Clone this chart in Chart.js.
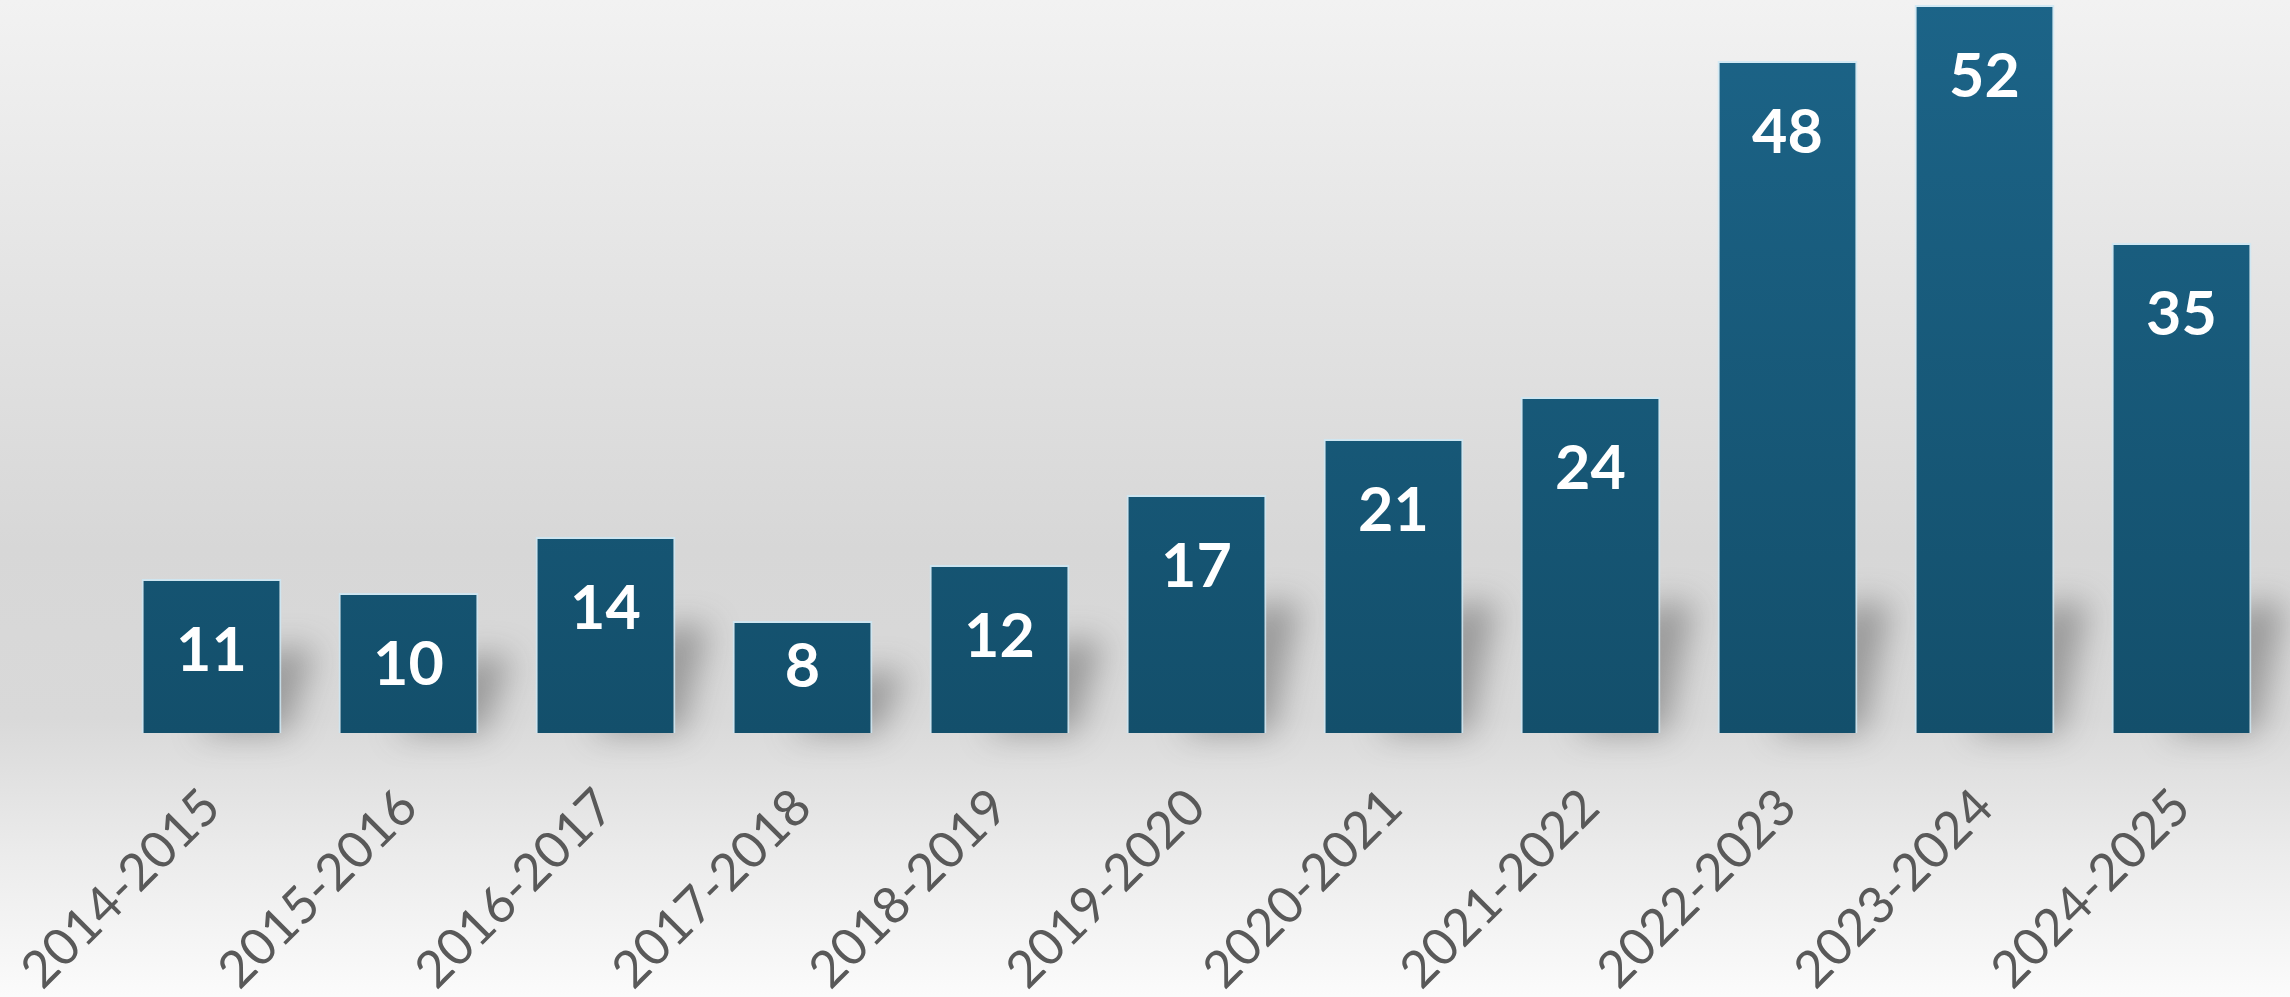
<!DOCTYPE html>
<html>
<head>
<meta charset="utf-8">
<script src="https://cdn.jsdelivr.net/npm/chart.js@4/dist/chart.umd.min.js"></script>
<style>
  html, body { margin: 0; padding: 0; }
  body {
    width: 2290px; height: 997px; overflow: hidden;
    background: linear-gradient(to bottom, #f2f2f2 0%, #e3e3e3 30%, #d7d7d7 55%, #d9d9d9 72%, #ececec 86%, #fbfbfb 100%);
  }
  #wrap { position: relative; width: 2290px; height: 997px; }
</style>
</head>
<body>
<div id="wrap"><canvas id="chart"></canvas></div>
<script>
const seasons = ['2014-2015', '2015-2016', '2016-2017', '2017-2018', '2018-2019', '2019-2020',
  '2020-2021', '2021-2022', '2022-2023', '2023-2024', '2024-2025'];
const counts = [11, 10, 14, 8, 12, 17, 21, 24, 48, 52, 35];

function barFill(context) {
  const { chart } = context;
  const area = chart.chartArea;
  if (!area) return '#175a7a';
  const g = chart.ctx.createLinearGradient(0, area.top, 0, area.bottom);
  g.addColorStop(0, '#1c6488');
  g.addColorStop(1, '#134f6b');
  return g;
}

// soft floor shadow behind each bar
const shadowPlugin = {
  id: 'barShadow',
  beforeDatasetsDraw(chart) {
    const ctx = chart.ctx;
    const meta = chart.getDatasetMeta(0);
    ctx.save();
    ctx.filter = 'blur(16px)';
    ctx.fillStyle = 'rgba(60,60,60,0.4)';
    meta.data.forEach(bar => {
      const h = bar.base - bar.y;
      const hs = Math.min(h * 0.55, 130);
      const left = bar.x - bar.width / 2;
      const right = bar.x + bar.width / 2;
      ctx.beginPath();
      ctx.moveTo(left + bar.width * 0.4, bar.base);
      ctx.lineTo(right + 6, bar.base);
      ctx.lineTo(right + 34, bar.base - hs);
      ctx.lineTo(right - 10, bar.base - hs);
      ctx.closePath();
      ctx.fill();
    });
    ctx.restore();
  }
};

const valueLabels = {
  id: 'valueLabels',
  afterDatasetsDraw(chart) {
    const ctx = chart.ctx;
    const meta = chart.getDatasetMeta(0);
    ctx.save();
    ctx.fillStyle = '#ffffff';
    ctx.font = 'bold 61px Lato';
    ctx.textAlign = 'center';
    ctx.textBaseline = 'middle';
    meta.data.forEach((bar, i) => {
      const y = Math.min(bar.y + 72, bar.base - 66);
      ctx.fillText(String(counts[i]), bar.x, y);
    });
    ctx.restore();
  }
};

new Chart(document.getElementById('chart'), {
  type: 'bar',
  data: {
    labels: seasons,
    datasets: [{
      data: counts,
      backgroundColor: barFill,
      borderColor: 'rgba(205,232,245,0.85)',
      borderWidth: 2,
      categoryPercentage: 1,
      barPercentage: 0.71,
    }],
  },
  options: {
    responsive: true,
    maintainAspectRatio: false,
    animation: false,
    layout: { padding: { left: 0, right: 10, top: 0, bottom: 0 } },
    plugins: {
      legend: { display: false },
      tooltip: { enabled: false },
    },
    scales: {
      x: {
        grid: { display: false },
        border: { display: false },
        ticks: {
          color: '#595959',
          font: { family: 'Lato', size: 51 },
          minRotation: 45,
          maxRotation: 45,
          padding: 36,
        },
        afterFit(scale) {
          scale.height = 264;
          scale.paddingLeft = 113;
        },
      },
      y: {
        display: false,
        min: 0,
        max: 52.35,
      },
    },
  },
  plugins: [shadowPlugin, valueLabels],
});
</script>
</body>
</html>
